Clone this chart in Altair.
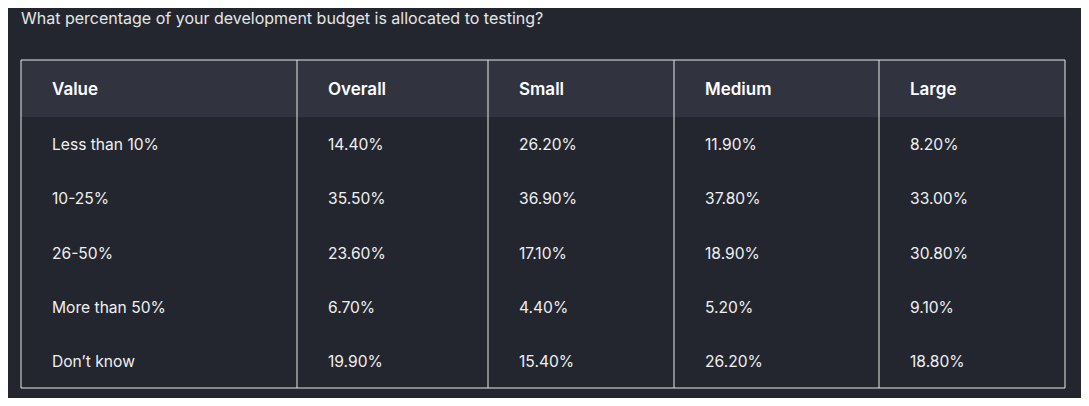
import altair as alt
import pandas as pd

# ---- data ----
title_text = "What percentage of your development budget is allocated to testing?"
header = ["Value", "Overall", "Small", "Medium", "Large"]
categories = ["Less than 10%", "10-25%", "26-50%", "More than 50%", "Don\u2019t know"]
overall = ["14.40%", "35.50%", "23.60%", "6.70%", "19.90%"]
small = ["26.20%", "36.90%", "17.10%", "4.40%", "15.40%"]
medium = ["11.90%", "37.80%", "18.90%", "5.20%", "26.20%"]
large = ["8.20%", "33.00%", "30.80%", "9.10%", "18.80%"]

# ---- layout (pixels) ----
W, H = 1073, 390
left, top = 13, 52
col_widths = [276, 191, 186, 205, 186]
header_h = 57
row_h = 54.2
pad_x = 31

BG = "#23262f"
HEADER_BG = "#31343f"
LINE = "#e8e8e8"
FONT = "Inter"

edges = [left]
for w in col_widths:
    edges.append(edges[-1] + w)
right = edges[-1]
bottom = top + header_h + row_h * len(categories)

columns = [categories, overall, small, medium, large]

xs = alt.Scale(domain=[0, W], range=[0, W])
ys = alt.Scale(domain=[0, H], range=[0, H])

def X(f="x"):
    return alt.X(f"{f}:Q", scale=xs, axis=None)

def Y(f="y"):
    return alt.Y(f"{f}:Q", scale=ys, axis=None)

box = pd.DataFrame([{"x": left, "x2": right, "y": top, "y2": top + header_h}])
header_rect = alt.Chart(box).mark_rect(fill=HEADER_BG).encode(
    x=X(), x2="x2:Q", y=Y(), y2="y2:Q")

frame = pd.DataFrame([{"x": left, "x2": right, "y": top, "y2": bottom}])
border = alt.Chart(frame).mark_rect(fill=None, stroke=LINE, strokeWidth=1).encode(
    x=X(), x2="x2:Q", y=Y(), y2="y2:Q")

seps = pd.DataFrame([{"x": e, "y": top, "y2": bottom} for e in edges[1:-1]])
sep_rules = alt.Chart(seps).mark_rule(color=LINE, strokeWidth=1).encode(
    x=X(), y=Y(), y2="y2:Q")

head_df = pd.DataFrame([{"x": edges[i] + pad_x, "y": top + header_h / 2 + 1, "t": h}
                        for i, h in enumerate(header)])
head_text = alt.Chart(head_df).mark_text(
    align="left", baseline="middle", font=FONT, fontSize=17, fontWeight=600,
    color="#ffffff").encode(x=X(), y=Y(), text="t:N")

rows = []
for i, col in enumerate(columns):
    for r, v in enumerate(col):
        rows.append({"x": edges[i] + pad_x,
                     "y": top + header_h + row_h * (r + 0.5) + 1,
                     "t": v})
body_text = alt.Chart(pd.DataFrame(rows)).mark_text(
    align="left", baseline="middle", font=FONT, fontSize=15.6,
    color="#f0f0f0").encode(x=X(), y=Y(), text="t:N")

tdf = pd.DataFrame([{"x": left, "y": 11, "t": title_text}])
title = alt.Chart(tdf).mark_text(
    align="left", baseline="middle", font=FONT, fontSize=16,
    color="#e6e6e6").encode(x=X(), y=Y(), text="t:N")

chart = alt.layer(header_rect, sep_rules, border, head_text, body_text, title).properties(
    width=W, height=H, padding=0, background=BG,
    autosize=alt.AutoSizeParams(type="none"),
).configure_view(stroke=None)

chart.save("out.html", embed_options={"renderer": "svg", "actions": False})
